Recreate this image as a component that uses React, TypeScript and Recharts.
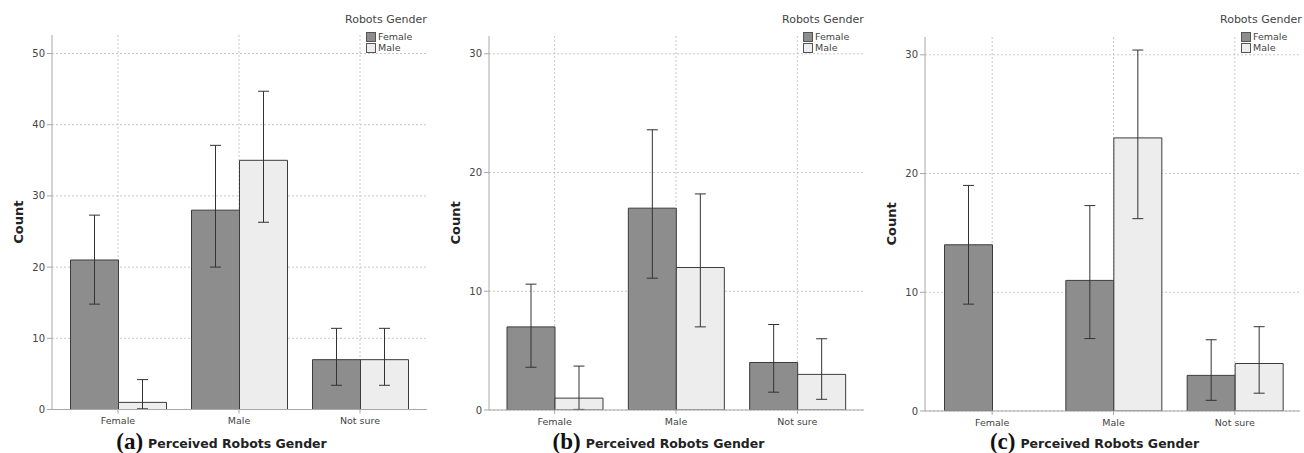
import React from 'react';
import { BarChart, Bar, XAxis, YAxis, CartesianGrid, ErrorBar, Label } from 'recharts';

const categories = ['Female', 'Male', 'Not sure'];

// Panel (a)
const aFemale = [21, 28, 7];
const aMale = [1, 35, 7];
const aFemaleLo = [14.8, 20.0, 3.4];
const aFemaleHi = [27.3, 37.1, 11.4];
const aMaleLo = [0.1, 26.3, 3.4];
const aMaleHi = [4.2, 44.7, 11.4];

// Panel (b)
const bFemale = [7, 17, 4];
const bMale = [1, 12, 3];
const bFemaleLo = [3.6, 11.1, 1.5];
const bFemaleHi = [10.6, 23.6, 7.2];
const bMaleLo = [0.05, 7.0, 0.9];
const bMaleHi = [3.7, 18.2, 6.0];

// Panel (c)
const cFemale = [14, 11, 3];
const cMale = [0, 23, 4];
const cFemaleLo = [9.0, 6.1, 0.9];
const cFemaleHi = [19.0, 17.3, 6.0];
const cMaleLo: (number | null)[] = [null, 16.2, 1.5];
const cMaleHi: (number | null)[] = [null, 30.4, 7.1];

const ticksA = [0, 10, 20, 30, 40, 50];
const ticksBC = [0, 10, 20, 30];

const legendTitle = 'Robots Gender';
const seriesNames = ['Female', 'Male'];
const axisTitle = 'Perceived Robots Gender';
const yTitle = 'Count';

const DARK = '#8d8d8d';
const LIGHT = '#ededed';
const EDGE = '#3c3c3c';
const FONT = '"DejaVu Sans", Verdana, sans-serif';

function build(f: number[], m: number[], fl: (number | null)[], fh: (number | null)[], ml: (number | null)[], mh: (number | null)[]) {
  return categories.map((name, i) => ({
    name,
    female: f[i],
    male: m[i],
    femaleErr: fl[i] == null ? null : [f[i] - (fl[i] as number), (fh[i] as number) - f[i]],
    maleErr: ml[i] == null ? null : [m[i] - (ml[i] as number), (mh[i] as number) - m[i]],
  }));
}

const dataA = build(aFemale, aMale, aFemaleLo, aFemaleHi, aMaleLo, aMaleHi);
const dataB = build(bFemale, bMale, bFemaleLo, bFemaleHi, bMaleLo, bMaleHi);
const dataC = build(cFemale, cMale, cFemaleLo, cFemaleHi, cMaleLo, cMaleHi);

type PanelProps = {
  data: any[];
  left: number;
  width: number;
  top: number;
  bottom: number;
  right: number;
  yMax: number;
  ticks: number[];
  padL: number;
  padR: number;
  letter: string;
  legendX: number;
};

function Panel({ data, left, width, top, bottom, right, yMax, ticks, padL, padR, letter, legendX }: PanelProps) {
  const height = 453;
  const plotMidY = (top + (height - bottom - 30)) / 2;
  return (
    <div style={{ position: 'absolute', left, top: 0, width, height }}>
      <BarChart
        width={width}
        height={height}
        data={data}
        margin={{ top, right, left: 22, bottom }}
        barGap={0}
        barSize={48}
      >
        <CartesianGrid stroke="#c8c8c8" strokeDasharray="2 2" syncWithTicks />
        <XAxis
          dataKey="name"
          height={30}
          padding={{ left: padL, right: padR }}
          axisLine={{ stroke: '#a8a8a8' }}
          tickLine={{ stroke: '#a8a8a8' }}
          tickSize={4}
          tickMargin={4}
          tick={{ fontSize: 9.5, fill: '#444', fontFamily: FONT }}
          interval={0}
        />
        <YAxis
          width={30}
          domain={[0, yMax]}
          ticks={ticks}
          allowDataOverflow
          axisLine={{ stroke: '#a8a8a8' }}
          tickLine={{ stroke: '#a8a8a8' }}
          tickSize={5}
          tick={{ fontSize: 10, fill: '#444', fontFamily: FONT }}
        >
          <Label
            content={() => (
              <text
                x={18}
                y={plotMidY}
                transform={`rotate(-90 18 ${plotMidY})`}
                textAnchor="middle"
                dominantBaseline="central"
                style={{ fontSize: 13, fontWeight: 'bold', fill: '#222', fontFamily: FONT }}
              >
                {yTitle}
              </text>
            )}
          />
        </YAxis>
        <Bar dataKey="female" fill={DARK} stroke={EDGE} strokeWidth={1} isAnimationActive={false}>
          <ErrorBar dataKey="femaleErr" width={5.5} stroke="#333" strokeWidth={1} />
        </Bar>
        <Bar dataKey="male" fill={LIGHT} stroke={EDGE} strokeWidth={1} isAnimationActive={false}>
          <ErrorBar dataKey="maleErr" width={5.5} stroke="#333" strokeWidth={1} />
        </Bar>
      </BarChart>
      <div style={{ position: 'absolute', left: legendX, top: 13, fontFamily: FONT, color: '#444' }}>
        <div style={{ fontSize: 11, lineHeight: '14px', whiteSpace: 'nowrap' }}>{legendTitle}</div>
        {seriesNames.map((s, i) => (
          <div key={s} style={{ display: 'flex', alignItems: 'center', marginLeft: 21, height: 11, fontSize: 9.5, whiteSpace: 'nowrap', marginTop: i === 0 ? 4 : 0 }}>
            <span style={{ display: 'inline-block', width: 8, height: 8, background: i === 0 ? DARK : LIGHT, border: '1px solid #555', marginRight: 2 }} />
            <span>{s}</span>
          </div>
        ))}
      </div>
      <div style={{ position: 'absolute', left: 22 + 30 - 18, width: width - 52 - right, top: 429, textAlign: 'center', whiteSpace: 'nowrap' }}>
        <span style={{ fontFamily: '"Liberation Serif", "Times New Roman", serif', fontWeight: 'bold', fontSize: 23, color: '#111' }}>({letter})</span>
        <span style={{ fontFamily: FONT, fontWeight: 'bold', fontSize: 12.5, color: '#222', marginLeft: 5, position: 'relative', top: -1 }}>{axisTitle}</span>
      </div>
    </div>
  );
}

export default function App() {
  return (
    <div style={{ position: 'absolute', left: 0, top: 0, width: 1304, height: 453, background: '#fff', overflow: 'hidden' }}>
      <Panel data={dataA} left={0} width={440} top={35} bottom={13.5} right={13} yMax={52.6} ticks={ticksA} padL={5.5} padR={6.5} letter="a" legendX={345} />
      <Panel data={dataB} left={437} width={440} top={36} bottom={13} right={13} yMax={31.5} ticks={ticksBC} padL={5} padR={6} letter="b" legendX={345} />
      <Panel data={dataC} left={873} width={431} top={37} bottom={12} right={4} yMax={31.5} ticks={ticksBC} padL={6.5} padR={4.5} letter="c" legendX={347} />
    </div>
  );
}
